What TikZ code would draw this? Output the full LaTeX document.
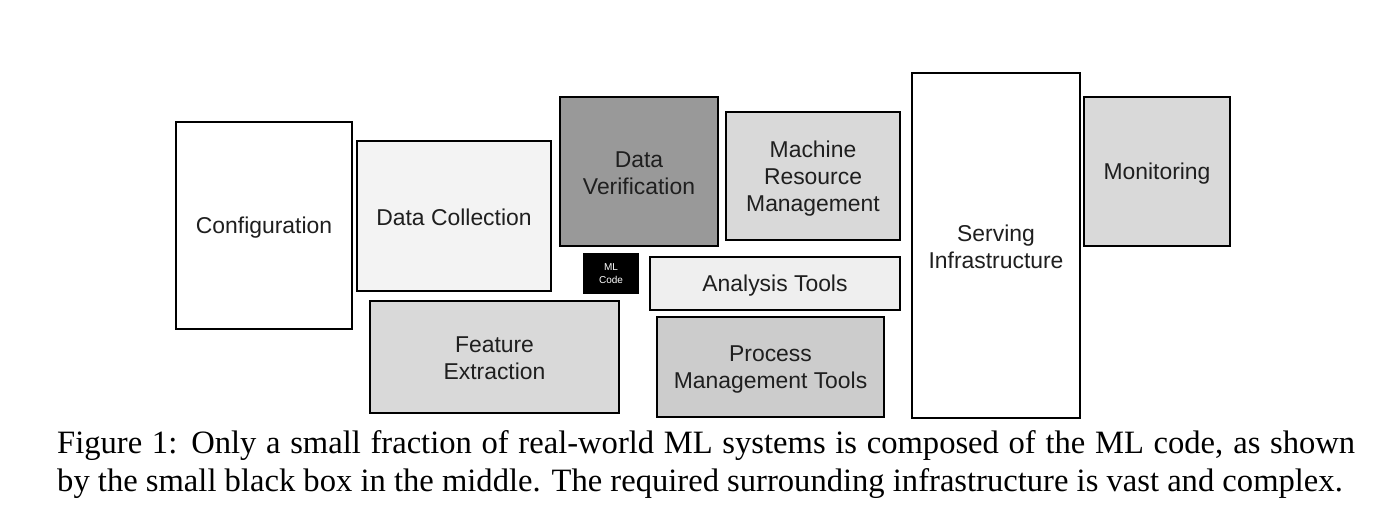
\documentclass[tikz,border=0pt]{standalone}
\usepackage{fontspec}
\setmainfont{Liberation Serif}
\setsansfont{Liberation Sans}
\definecolor{fa}{HTML}{F3F3F3}
\definecolor{fb}{HTML}{999999}
\definecolor{fc}{HTML}{D9D9D9}
\definecolor{fd}{HTML}{EFEFEF}
\definecolor{fe}{HTML}{CCCCCC}
\begin{document}
\begin{tikzpicture}[x=1pt,y=-1pt,
  box/.style={draw=black,line width=2pt,inner sep=0pt},
  lbl/.style={inner sep=0pt,align=center,
    font=\sffamily\fontsize{22.9}{27}\selectfont,text=black!88},
  captext/.style={anchor=base west,inner sep=0pt,font=\rmfamily\fontsize{32.6}{38}\selectfont}]
\useasboundingbox (0,0) rectangle (1400,518);
\fill[white] (0,0) rectangle (1400,518);
\node[box,fill=white,minimum width=176pt,minimum height=207pt] (conf) at (264,225.5) {};
\node[box,fill=fa,minimum width=194pt,minimum height=150pt] (dcoll) at (454,216) {};
\node[box,fill=fb,minimum width=158pt,minimum height=149pt] (dver) at (639,171.5) {};
\node[box,fill=fc,minimum width=174pt,minimum height=128pt] (mrm) at (813,176) {};
\node[box,fill=white,minimum width=168pt,minimum height=345pt] (serv) at (996,245.5) {};
\node[box,fill=fc,minimum width=146pt,minimum height=149pt] (mon) at (1157,171.5) {};
\node[box,fill=black,minimum width=54pt,minimum height=39pt] (ml) at (611,273.5) {};
\node[box,fill=fd,minimum width=250pt,minimum height=53pt] (anal) at (775,283.5) {};
\node[box,fill=fc,minimum width=249pt,minimum height=112pt] (feat) at (494.5,357) {};
\node[box,fill=fe,minimum width=227pt,minimum height=100pt] (proc) at (770.5,367) {};
\node[lbl] (conf-t) at ([yshift=-2.5pt]conf.center) {Configuration};
\node[lbl] (dcoll-t) at ([yshift=-1.5pt]dcoll.center) {Data Collection};
\node[lbl] (dver-t) at ([yshift=-2pt]dver.center) {Data\\Verification};
\node[lbl] (mrm-t) at ([yshift=-2.5pt]mrm.center) {Machine\\Resource\\Management};
\node[lbl] (serv-t) at ([yshift=-1.5pt]serv.center) {Serving\\Infrastructure};
\node[lbl] (mon-t) at ([yshift=-2.5pt]mon.center) {Monitoring};
\node[lbl,text=white,font=\sffamily\fontsize{10}{13}\selectfont] (ml-t) at ([yshift=-0.5pt]ml.center) {ML\\Code};
\node[lbl] (anal-t) at ([yshift=-2pt]anal.center) {Analysis Tools};
\node[lbl] (feat-t) at ([yshift=-1.5pt]feat.center) {Feature\\Extraction};
\node[lbl] (proc-t) at ([yshift=-2pt]proc.center) {Process\\Management Tools};
\node[captext] (cap1) at (57,453) {\makebox[1298pt][s]{Figure 1: Only a small fraction of real-world ML systems is composed of the ML code, as shown}};
\node[captext] (cap2) at (57,491) {by the small black box in the middle. The required surrounding infrastructure is vast and complex.};
\end{tikzpicture}
\end{document}
